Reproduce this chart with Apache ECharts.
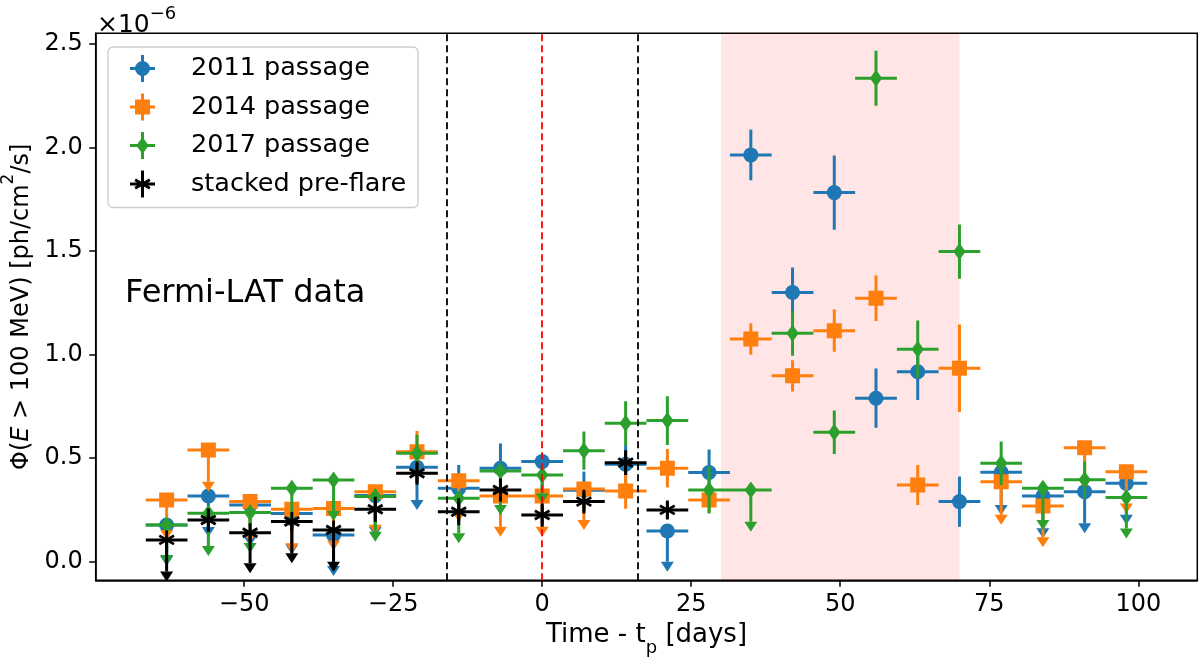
<!DOCTYPE html>
<html>
<head>
<meta charset="utf-8">
<script src="https://cdn.jsdelivr.net/npm/echarts@6.0.0/dist/echarts.min.js"></script>
<style>
html,body{margin:0;padding:0;background:#fff;}
#chart{width:1200px;height:659px;}
</style>
</head>
<body>
<div id="chart"></div>
<script>
// ---- data (flux in units of 1e-6 ph/cm^2/s) ----
const days = [-63,-56,-49,-42,-35,-28,-21,-14,-7,0,7,14,21,28,35,42,49,56,63,70,77,84,91,98];
const preflareDays = [-63,-56,-49,-42,-35,-28,-21,-14,-7,0,7,14,21];
const binHalfWidth = 3.5;

const flux2011 = [0.177,0.317,0.273,0.233,0.129,0.319,0.456,0.354,0.451,0.483,0.345,0.470,0.148,0.431,1.964,1.300,1.782,0.789,0.917,0.290,0.432,0.317,0.338,0.378];
const err2011  = [0.150,0.150,0.150,0.150,0.150,0.150,0.158,0.113,0.120,0.150,0.090,0.095,0.148,0.111,0.122,0.120,0.179,0.143,0.137,0.121,0.158,0.156,0.153,0.152];
const ul2011   = [1,1,1,1,1,1,1,0,0,1,0,0,1,0,0,0,0,0,0,0,1,1,1,1];

const flux2014 = [0.298,0.539,0.290,0.253,0.257,0.338,0.531,0.391,0.317,0.317,0.351,0.341,0.451,0.298,1.075,0.897,1.115,1.272,0.370,0.934,0.386,0.269,0.550,0.434];
const err2014  = [0.145,0.153,0.150,0.164,0.155,0.160,0.100,0.150,0.148,0.148,0.150,0.085,0.093,0.060,0.076,0.075,0.102,0.110,0.097,0.211,0.160,0.151,0.150,0.153];
const ul2014   = [1,1,1,1,1,1,0,1,1,1,1,0,0,0,0,0,0,0,0,0,1,1,1,1];

const flux2017 = [0.177,0.234,0.237,0.354,0.394,0.314,0.523,0.306,0.438,0.419,0.536,0.668,0.681,0.346,0.346,1.103,0.625,2.334,1.026,1.497,0.475,0.354,0.395,0.310];
const err2017  = [0.145,0.158,0.147,0.150,0.150,0.170,0.090,0.169,0.164,0.090,0.092,0.107,0.118,0.113,0.153,0.109,0.105,0.133,0.138,0.131,0.105,0.153,0.089,0.150];
const ul2017   = [1,1,1,1,1,1,0,1,1,1,0,0,0,0,1,0,0,0,0,0,0,1,0,1];

const fluxPre = [0.105,0.201,0.140,0.194,0.153,0.253,0.427,0.241,0.346,0.225,0.290,0.478,0.250];
const errPre  = [0.153,0.056,0.148,0.154,0.153,0.060,0.056,0.065,0.056,0.056,0.057,0.060,0.040];
const ulPre   = [1,0,1,1,1,0,0,0,0,0,0,0,0];

const xTicks = [-50,-25,0,25,50,75,100];
const yTicks = [0,0.5,1.0,1.5,2.0,2.5];
const periastronLines = [-16,16];
const flareSpan = [30,70];

const seriesNames = ['2011 passage','2014 passage','2017 passage','stacked pre-flare'];
const colors = ['#1f77b4','#ff7f0e','#2ca02c','#000000'];

// ---- drawing helpers ----
const FONT = 'DejaVu Sans';
function asteriskLines(cx, cy, color) {
  const kids = [];
  const L = 9.5, D = 8.5;
  kids.push({type:'line', shape:{x1:cx,y1:cy-L,x2:cx,y2:cy+L}, style:{stroke:color,lineWidth:2.8}});
  [30,150].forEach(a=>{
    const r = a*Math.PI/180, dx = Math.cos(r)*D, dy = Math.sin(r)*D;
    kids.push({type:'line', shape:{x1:cx-dx,y1:cy-dy,x2:cx+dx,y2:cy+dy}, style:{stroke:color,lineWidth:2.8}});
  });
  return kids;
}
function marker(shape, c, color) {
  const cx=c[0], cy=c[1];
  if (shape==='circle') return {type:'circle', shape:{cx,cy,r:7.5}, style:{fill:color}};
  if (shape==='square') return {type:'rect', shape:{x:cx-7.5,y:cy-7.5,width:15,height:15}, style:{fill:color}};
  if (shape==='diamond') return {type:'polygon', shape:{points:[[cx,cy-8.5],[cx+6.2,cy],[cx,cy+8.5],[cx-6.2,cy]]}, style:{fill:color}};
  return {type:'group', children: asteriskLines(cx, cy, color)};
}
function makeRender(shape, color) {
  return function (params, api) {
    const x = api.value(0), y = api.value(1), e = api.value(2), ul = api.value(3);
    const c = api.coord([x, y]);
    const l = api.coord([x - binHalfWidth, y]);
    const r = api.coord([x + binHalfWidth, y]);
    const ls = {stroke: color, lineWidth: 3};
    const kids = [{type:'line', shape:{x1:l[0],y1:c[1],x2:r[0],y2:c[1]}, style: ls}];
    if (ul) {
      const b = api.coord([x, y - e]);
      kids.push({type:'line', shape:{x1:c[0],y1:c[1],x2:b[0],y2:b[1]}, style: ls});
      kids.push({type:'polygon', shape:{points:[[b[0]-6.5,b[1]],[b[0]+6.5,b[1]],[b[0],b[1]+10]]}, style:{fill:color}});
    } else {
      const t = api.coord([x, y + e]), b = api.coord([x, y - e]);
      kids.push({type:'line', shape:{x1:t[0],y1:t[1],x2:b[0],y2:b[1]}, style: ls});
    }
    kids.push(marker(shape, c, color));
    return {type:'group', children: kids};
  };
}

// legend icon paths (27x27 box), all sub-paths clockwise so they union
function polyPath(pts) {
  let a = 0;
  for (let i=0;i<pts.length;i++){const p=pts[i],q=pts[(i+1)%pts.length];a+=p[0]*q[1]-q[0]*p[1];}
  if (a<0) pts = pts.slice().reverse();
  return 'M'+pts.map(p=>p[0].toFixed(2)+' '+p[1].toFixed(2)).join('L')+'Z';
}
const crossPath = 'M1 12H26V15H1ZM12 0H15V27H12Z';
function barPoly(cx,cy,ang,L,w){
  const r=ang*Math.PI/180,dx=Math.cos(r),dy=Math.sin(r),nx=-dy,ny=dx;
  return polyPath([[cx+dx*L+nx*w,cy+dy*L+ny*w],[cx+dx*L-nx*w,cy+dy*L-ny*w],[cx-dx*L-nx*w,cy-dy*L-ny*w],[cx-dx*L+nx*w,cy-dy*L+ny*w]]);
}
const icons = [
  'path://' + crossPath + 'M6 13.5A7.5 7.5 0 1 1 21 13.5A7.5 7.5 0 1 1 6 13.5Z',
  'path://' + crossPath + 'M6 6H21V21H6Z',
  'path://' + crossPath + polyPath([[13.5,5],[19.7,13.5],[13.5,22],[7.3,13.5]]),
  'path://' + crossPath + barPoly(13.5,13.5,30,8.5,1.4) + barPoly(13.5,13.5,150,8.5,1.4)
];

function toData(xs, f, e, u){ return xs.map((d,i)=>[d, f[i], e[i], u[i]]); }
const shapes = ['circle','square','diamond','asterisk'];
const datasets = [
  toData(days, flux2011, err2011, ul2011),
  toData(days, flux2014, err2014, ul2014),
  toData(days, flux2017, err2017, ul2017),
  toData(preflareDays, fluxPre, errPre, ulPre)
];

const fmtX = v => (v<0 ? '\u2212' + (-v) : String(v));
const fmtY = v => Number(v).toFixed(1);

const chart = echarts.init(document.getElementById('chart'), null, {renderer:'canvas'});
const series = [{
  type:'line', data:[], z:1, silent:true,
  markArea:{silent:true, itemStyle:{color:'rgba(255,0,0,0.1)'}, data:[[{xAxis:flareSpan[0]},{xAxis:flareSpan[1]}]]},
  markLine:{silent:true, symbol:['none','none'], label:{show:false},
    data:[
      {xAxis:periastronLines[0], lineStyle:{color:'#000', type:[7,4], width:1.8}},
      {xAxis:0, lineStyle:{color:'#ff0000', type:[7,4], width:1.8}},
      {xAxis:periastronLines[1], lineStyle:{color:'#000', type:[7,4], width:1.8}}
    ]}
}];
seriesNames.forEach((n,i)=>{
  series.push({
    type:'custom', name:n, z:2+i, clip:true,
    itemStyle:{color:colors[i]},
    renderItem: makeRender(shapes[i], colors[i]),
    encode:{x:0, y:1},
    data: datasets[i]
  });
});

chart.setOption({
  animation:false,
  backgroundColor:'#fff',
  grid:{left:95.7, right:2.7, top:33.3, bottom:78.7, outerBoundsMode:'none', containLabel:false,
        show:true, borderColor:'#000', borderWidth:1.5, backgroundColor:'transparent'},
  xAxis:{
    type:'value', min:-74.9, max:109.9,
    name:'Time - t{sub|p} [days]', nameLocation:'middle', nameGap:42,
    nameTextStyle:{fontFamily:FONT, fontSize:26, color:'#000', verticalAlign:'top',
      rich:{sub:{fontFamily:FONT, fontSize:18, color:'#000', verticalAlign:'bottom', padding:[0,0,-9,0]}}},
    axisLine:{show:true, onZero:false, lineStyle:{color:'#000', width:1.5}},
    axisTick:{show:true, length:6.5, lineStyle:{color:'#000', width:1.5}, customValues:xTicks},
    axisLabel:{customValues:xTicks, formatter:fmtX, fontFamily:FONT, fontSize:24, color:'#000', margin:12},
    splitLine:{show:false}
  },
  yAxis:{
    type:'value', min:-0.09, max:2.551,
    name:'\u03A6({it|E} > 100 MeV) [ph/cm{sup|2}/s]', nameLocation:'middle', nameGap:62, nameRotate:90,
    nameTextStyle:{fontFamily:FONT, fontSize:24, color:'#000',
      rich:{it:{fontFamily:FONT, fontStyle:'italic', fontSize:24, color:'#000'},
            sup:{fontFamily:FONT, fontSize:17, color:'#000', verticalAlign:'top', padding:[-10,0,0,0]}}},
    axisLine:{show:true, onZero:false, lineStyle:{color:'#000', width:1.5}},
    axisTick:{show:true, length:6.5, lineStyle:{color:'#000', width:1.5}, customValues:yTicks},
    axisLabel:{customValues:yTicks, formatter:fmtY, fontFamily:FONT, fontSize:24, color:'#000', margin:13},
    splitLine:{show:false}
  },
  legend:{
    orient:'vertical', left:108, top:47, padding:[8,12,10,22], itemGap:11.5, itemWidth:27, itemHeight:27,
    backgroundColor:'#fff', borderColor:'#cccccc', borderWidth:1.3, borderRadius:5,
    textStyle:{fontFamily:FONT, fontSize:25.5, color:'#000', padding:[0,0,0,30]},
    selectedMode:false,
    data: seriesNames.map((n,i)=>({name:n, icon:icons[i], itemStyle:{color:colors[i]}}))
  },
  graphic:[
    {type:'text', left:97, top:5, silent:true,
      style:{text:'\u00D710{sup|\u22126}', fontFamily:FONT, fontSize:25, fill:'#000',
        rich:{sup:{fontFamily:FONT, fontSize:18, fill:'#000', verticalAlign:'top', padding:[-8,0,0,0]}}}},
    {type:'text', left:125, top:278, silent:true,
      style:{text:'Fermi-LAT data', fontFamily:FONT, fontSize:32, fill:'#000'}}
  ],
  series: series
});
</script>
</body>
</html>
